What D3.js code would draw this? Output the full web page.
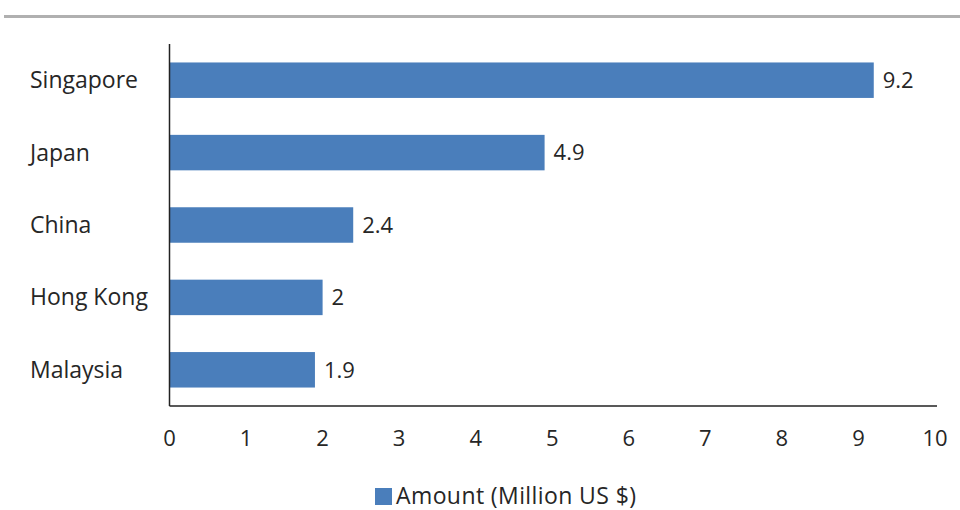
<!DOCTYPE html>
<html>
<head>
    <script src="https://d3js.org/d3.v7.min.js"></script>
    <style>
        body { margin: 0; background: #fff; }
        text { font-family: "Open Sans", sans-serif; fill: #262626; }
    </style>
</head>
<body>
    <svg id="chart" width="960" height="510"></svg>
    <script>
        const countries = ["Singapore", "Japan", "China", "Hong Kong", "Malaysia"];
        const amounts = [9.2, 4.9, 2.4, 2, 1.9];
        const xTicks = [0, 1, 2, 3, 4, 5, 6, 7, 8, 9, 10];
        const seriesName = "Amount (Million US $)";

        const svg = d3.select("svg#chart");
        const barColor = "#4a7ebb";
        const fontSize = 23;

        // top rule
        svg.append("rect")
           .attr("x", 4).attr("y", 15).attr("width", 956).attr("height", 3)
           .attr("fill", "#b0b0b0");

        const xScale = d3.scaleLinear().domain([0, 10]).range([169.5, 935]);
        const yScale = d3.scaleBand().domain(countries).range([44, 406]).paddingInner(0.51).paddingOuter(0.255);

        // bars
        svg.selectAll("rect.bar").data(countries)
           .join("rect")
           .attr("class", "bar")
           .attr("x", xScale(0))
           .attr("y", d => yScale(d))
           .attr("width", (d, i) => xScale(amounts[i]) - xScale(0))
           .attr("height", yScale.bandwidth())
           .attr("fill", barColor);

        // value labels
        svg.selectAll("text.val").data(countries)
           .join("text")
           .attr("class", "val")
           .attr("x", (d, i) => xScale(amounts[i]) + 9)
           .attr("y", d => yScale(d) + yScale.bandwidth() / 2)
           .attr("dy", "0.35em")
           .attr("font-size", fontSize - 1)
           .text((d, i) => amounts[i]);

        // category labels, left aligned
        svg.selectAll("text.cat").data(countries)
           .join("text")
           .attr("class", "cat")
           .attr("x", 30)
           .attr("y", d => yScale(d) + yScale.bandwidth() / 2)
           .attr("dy", "0.35em")
           .attr("font-size", fontSize)
           .text(d => d);

        // axes lines
        svg.append("line")
           .attr("x1", xScale(0)).attr("x2", xScale(0))
           .attr("y1", 44).attr("y2", 406)
           .attr("stroke", "#222").attr("stroke-width", 1.5);
        svg.append("line")
           .attr("x1", xScale(0)).attr("x2", xScale(10) + 2)
           .attr("y1", 406).attr("y2", 406)
           .attr("stroke", "#222").attr("stroke-width", 1.5);

        // x tick labels
        svg.selectAll("text.tick").data(xTicks)
           .join("text")
           .attr("class", "tick")
           .attr("x", d => xScale(d))
           .attr("y", 446)
           .attr("text-anchor", "middle")
           .attr("font-size", fontSize - 1)
           .text(d => d);

        // legend
        svg.append("rect")
           .attr("x", 375).attr("y", 488).attr("width", 17).attr("height", 17)
           .attr("fill", barColor);
        svg.append("text")
           .attr("x", 396).attr("y", 504)
           .attr("font-size", fontSize)
           .attr("textLength", 240)
           .text(seriesName);
    </script>
</body>
</html>
